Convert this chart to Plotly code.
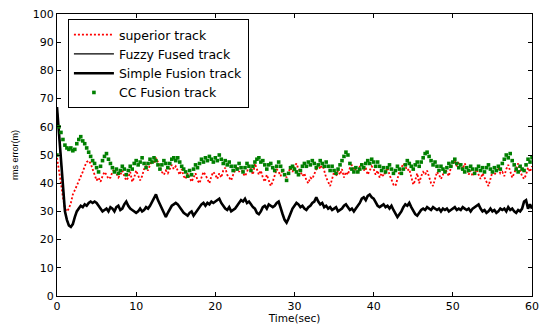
import plotly.graph_objects as go

# sampling step of the time axis (sec)
T_STEP = 0.25

# Simple Fusion track (thick black)
simple_fusion = [
    67, 58, 47, 37, 30, 27, 25, 24.5, 25.5, 28, 30, 31, 32, 31.5, 32.5, 32, 33, 33.5, 33, 33.5,
    33, 32, 31, 30, 30.5, 31, 30, 31.5, 31, 30, 31.5, 32, 30.5, 31, 32.5, 33.5, 32, 31, 30.5, 30,
    29.5, 30, 31, 30, 30.5, 31.5, 31, 32, 33.5, 35, 36, 34, 32.5, 31, 29, 28, 29.5, 31, 32, 32.5,
    33, 32.5, 31.5, 30.5, 29.5, 29, 28.5, 29.5, 30, 28.5, 29.5, 30.5, 31.5, 32.5, 33, 32, 33, 32.5, 33.5, 33,
    33.5, 34, 34.5, 33, 32, 31, 30.5, 31.5, 30, 30.5, 31, 32, 33, 34, 33.5, 34.5, 33, 33.5, 32.5, 31.5,
    31, 29.5, 29, 30, 31.5, 32, 31, 32.5, 32, 31.5, 32, 33, 33.5, 31, 29, 27, 26, 27.5, 29.5, 31,
    32, 33, 32.5, 31.5, 32, 31, 30.5, 31.5, 32, 33, 33.5, 35, 33.5, 32.5, 33, 31.5, 32, 31, 31.5, 30.5,
    31, 31.5, 30, 30.5, 31, 32, 32.5, 31.5, 30.5, 31, 30, 31, 32, 33, 34.5, 35, 34, 35.5, 36, 35,
    34.5, 33, 32, 31.5, 32, 32.5, 31.5, 32, 31, 32, 30.5, 29, 28, 29, 30, 31.5, 32.5, 32, 33, 31.5,
    30, 29, 28.5, 29.5, 30.5, 31, 30.5, 31.5, 31, 30.5, 31.5, 31, 30.5, 31, 30, 31, 30.5, 31, 30, 30.5,
    31, 31.5, 30.5, 31, 30.5, 31.5, 31, 30.5, 31, 30, 31, 31.5, 32, 32.5, 31, 30, 30.5, 29.5, 30, 31,
    30, 30.5, 29.5, 30, 31, 30.5, 31, 30, 31.5, 30.5, 31, 30, 29.5, 30.5, 30, 31, 33.5, 34, 31, 32.5,
    31,
]

# Fuzzy Fused track (thin black, drawn under the thick one)
fuzzy_fused = list(simple_fusion)

# superior track (red dotted)
superior = [
    49, 45, 40, 35, 31, 30, 31, 33, 36, 37.5, 39, 41, 42.5, 44, 46, 47.5, 48, 47, 45, 43,
    41, 42, 40.5, 42.5, 44, 43, 41.5, 42, 44, 45, 43.5, 42, 43, 44.5, 42.5, 41, 42, 44, 40.5, 42,
    44.5, 43, 41, 42.5, 45, 46, 44.5, 46.5, 48, 47, 49, 47.5, 45.5, 44, 43, 44.5, 43.5, 45, 46.5, 45,
    46, 44.5, 43, 45, 42.5, 41.5, 43.5, 42, 40.5, 42, 43.5, 41, 40, 42, 44, 43, 41.5, 40, 42.5, 44,
    43, 41.5, 43.5, 42, 44.5, 45.5, 43, 42, 41, 43, 44.5, 46, 44, 45.5, 43.5, 42.5, 44, 46, 45, 43,
    47, 45, 43, 44.5, 42, 40.5, 43, 41, 39, 40.5, 43, 45, 44, 42.5, 45, 43.5, 42, 44, 45.5, 44,
    46, 47, 45, 44, 42.5, 43.5, 41, 40, 42, 41.5, 43.5, 45, 46.5, 45, 47, 44.5, 42, 40.5, 39, 41.5,
    44, 42.5, 44.5, 43, 45, 42, 44, 43, 45.5, 46.5, 44.5, 45, 43.5, 46, 47, 44.5, 45.5, 43, 44.5, 46,
    45, 43, 44.5, 42, 43.5, 42.5, 44, 45.5, 43, 41, 39.5, 39, 41.5, 44, 45.5, 47, 46, 44.5, 45, 42.5,
    39.5, 41, 43.5, 40, 42.5, 44, 43, 44.5, 42, 40, 39, 41.5, 44, 43, 41.5, 43, 45, 44, 42.5, 45.5,
    47, 48, 46, 47.5, 46.5, 45, 47, 45.5, 43, 44.5, 42.5, 44, 45, 43, 41.5, 43.5, 42, 40.5, 39, 41.5,
    44, 43, 44.5, 45.5, 43.5, 44, 42.5, 45, 46.5, 44, 42, 43.5, 45, 47, 44.5, 42.5, 41.5, 43, 45.5, 44,
    46,
]

# CC Fusion track (green dots)
cc_fusion = [
    50, 60, 58, 55.5, 53.5, 52.5, 52, 52.5, 51.5, 52, 54, 55.5, 56.5, 55, 54, 52.5, 51, 49.5, 48, 47,
    45.5, 44, 46, 48, 49.5, 50.5, 48.5, 47, 45.5, 44, 45, 43.5, 44.5, 46, 45, 43, 44.5, 46, 45, 47,
    48, 46.5, 47.5, 49, 47, 45.5, 47, 48.5, 47.5, 49, 48, 46.5, 45, 46.5, 48, 47, 45.5, 47, 48.5, 49,
    48, 49, 47.5, 46, 45, 44, 42.5, 44.5, 43, 45, 46.5, 45.5, 47, 48.5, 47.5, 49, 48, 49.5, 48.5, 47.5,
    49, 48, 50, 48.5, 47, 48, 46.5, 47.5, 46, 44.5, 46, 45, 47, 45.5, 44, 45.5, 47, 46, 44.5, 46,
    47.5, 48.5, 49, 47.5, 48, 46.5, 45, 46.5, 47, 45.5, 44.5, 46, 47.5, 46, 44.5, 43, 41, 43.5, 45.5, 46,
    45, 44, 43, 44.5, 46, 47, 46, 47.5, 46.5, 48, 47, 45.5, 46.5, 48, 47, 46, 47.5, 46, 44.5, 46,
    44.5, 43.5, 45, 46.5, 48, 49.5, 51, 50, 47, 45, 44, 45.5, 44, 45, 46.5, 45.5, 47, 48, 47, 48.5,
    47.5, 46, 47.5, 46, 44.5, 45.5, 44, 45.5, 46.5, 45, 43.5, 44.5, 46, 45, 43.5, 45, 46.5, 48, 47, 46,
    45, 46.5, 47.5, 46, 47.5, 49, 50.5, 51, 49.5, 48, 46.5, 47.5, 46, 44.5, 46, 45, 44, 45.5, 47, 46,
    47.5, 48.5, 47, 45.5, 46.5, 45, 44, 45.5, 44.5, 46, 45, 43.5, 45, 46, 44.5, 45.5, 44, 45.5, 46.5, 45,
    44, 45.5, 44.5, 46, 45, 47, 48.5, 50, 49, 50.5, 48, 46.5, 45, 44, 46, 45, 44.5, 46.5, 48.5, 47.5,
    49,
]

x_ticks = [0, 10, 20, 30, 40, 50, 60]
y_ticks = [0, 10, 20, 30, 40, 50, 60, 70, 80, 90, 100]

time = [i * T_STEP for i in range(len(simple_fusion))]

WIDE = "DejaVu Sans, Verdana, sans-serif"
NARROW = "Liberation Sans, Arial, Helvetica, sans-serif"

fig = go.Figure()
fig.add_trace(go.Scatter(
    x=time, y=superior, mode="lines", name="superior track",
    line=dict(color="#ff0000", width=1.8, dash="2px,2px"),
))
fig.add_trace(go.Scatter(
    x=time, y=fuzzy_fused, mode="lines", name="Fuzzy Fused track",
    line=dict(color="black", width=1.2),
))
fig.add_trace(go.Scatter(
    x=time, y=simple_fusion, mode="lines", name="Simple Fusion track",
    line=dict(color="black", width=2.6),
))
fig.add_trace(go.Scatter(
    x=time, y=cc_fusion, mode="markers", name="CC Fusion track",
    marker=dict(color="#008000", size=3.6, symbol="square"),
))

axis_common = dict(
    showline=True, linecolor="black", linewidth=1, mirror="ticks",
    ticks="inside", ticklen=4, tickcolor="black", showgrid=False, zeroline=False,
    tickfont=dict(family=WIDE, size=11, color="black"),
    automargin=False,
)

fig.update_layout(
    width=539, height=324,
    margin=dict(l=57, r=7, t=14, b=28),
    paper_bgcolor="white", plot_bgcolor="white",
    font=dict(family=WIDE, size=11, color="black"),
    showlegend=True,
    legend=dict(
        x=0.023, y=0.982, xanchor="left", yanchor="top",
        bgcolor="white", bordercolor="black", borderwidth=1,
        font=dict(family=WIDE, size=12.5, color="black"),
        tracegroupgap=0, itemwidth=40,
    ),
    xaxis=dict(
        range=[0, 60], tickvals=x_ticks, ticktext=[str(v) for v in x_ticks],
        title=dict(text="Time(sec)", font=dict(family=WIDE, size=10.5), standoff=10),
        **axis_common,
    ),
    yaxis=dict(
        range=[0, 100], tickvals=y_ticks, ticktext=[str(v) for v in y_ticks],
        title=dict(text="rms error(m)", font=dict(family=NARROW, size=9), standoff=12),
        **axis_common,
    ),
)

fig.write_html("out.html")
